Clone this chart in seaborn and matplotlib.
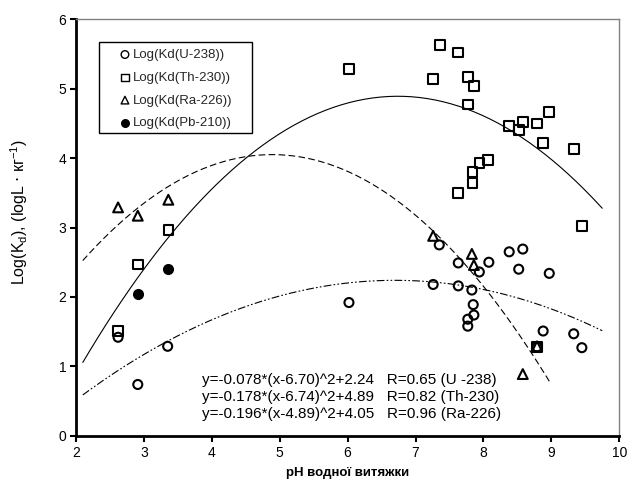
import numpy as np
import pandas as pd
import matplotlib
matplotlib.use("Agg")
import matplotlib.pyplot as plt
from matplotlib.patches import Rectangle
import seaborn as sns

sns.set_theme(style="white")
plt.rcParams['font.family'] = ['Liberation Sans', 'DejaVu Sans']

# --- data ---
u_ph = [2.62, 2.91, 3.35, 6.02, 7.26, 7.35, 7.63, 7.63, 7.83, 7.85, 7.86, 7.77, 7.77,
        7.94, 8.08, 8.38, 8.58, 8.52, 8.97, 8.88, 8.79, 9.33, 9.45]
u_kd = [1.42, 0.74, 1.29, 1.92, 2.18, 2.75, 2.49, 2.16, 2.10, 1.89, 1.74, 1.68, 1.58,
        2.36, 2.50, 2.65, 2.69, 2.40, 2.34, 1.51, 1.28, 1.47, 1.27]

th_ph = [2.62, 2.91, 3.36, 6.02, 7.36, 7.63, 7.26, 7.77, 7.86, 7.77, 8.38, 8.52, 8.58,
         8.79, 8.97, 8.88, 9.33, 9.45, 8.07, 7.94, 7.84, 7.84, 7.63, 8.79]
th_kd = [1.51, 2.47, 2.96, 5.28, 5.63, 5.52, 5.14, 5.17, 5.04, 4.77, 4.46, 4.40, 4.52,
         4.50, 4.66, 4.22, 4.13, 3.02, 3.97, 3.93, 3.80, 3.64, 3.50, 1.28]

ra_ph = [2.62, 2.91, 3.36, 7.26, 7.83, 7.86, 8.79, 8.58]
ra_kd = [3.29, 3.17, 3.40, 2.88, 2.62, 2.46, 1.29, 0.89]

pb_ph = [2.91, 3.36]
pb_kd = [2.04, 2.41]

# fitted curves: y = a*(x - h)^2 + k  (coefficients printed on the chart)
u_fit = [-0.078, 6.70, 2.24]
th_fit = [-0.178, 6.74, 4.89]
ra_fit = [-0.196, 4.89, 4.05]
u_range = [2.1, 9.75]
th_range = [2.1, 9.75]
ra_range = [2.1, 8.97]

eq_lines = [
    "y=-0.078*(x-6.70)^2+2.24   R=0.65 (U -238)",
    "y=-0.178*(x-6.74)^2+4.89   R=0.82 (Th-230)",
    "y=-0.196*(x-4.89)^2+4.05   R=0.96 (Ra-226)",
]
eq_y = [0.805, 0.560, 0.315]

x_ticks = [2, 3, 4, 5, 6, 7, 8, 9, 10]
y_ticks = [0, 1, 2, 3, 4, 5, 6]

fig = plt.figure(figsize=(6.28, 4.79), dpi=100)
ax = fig.add_axes([0.121, 0.090, 0.865, 0.870])

def fit_df(coef, rng):
    x = np.linspace(rng[0], rng[1], 200)
    return pd.DataFrame({"x": x, "y": coef[0] * (x - coef[1]) ** 2 + coef[2]})

sns.lineplot(data=fit_df(th_fit, th_range), x="x", y="y", ax=ax, color="black", lw=0.8)
sns.lineplot(data=fit_df(ra_fit, ra_range), x="x", y="y", ax=ax, color="black", lw=0.8)
ax.lines[-1].set_linestyle((0, (6, 3)))
sns.lineplot(data=fit_df(u_fit, u_range), x="x", y="y", ax=ax, color="black", lw=0.8)
ax.lines[-1].set_linestyle((0, (7, 2, 1.5, 2, 1.5, 2)))

mk = dict(edgecolor="black", linewidth=1.5, ax=ax, zorder=5)
sns.scatterplot(x=u_ph, y=u_kd, marker="o", s=42, facecolor="none", label="Log(Kd(U-238))", **mk)
sns.scatterplot(x=th_ph, y=th_kd, marker="s", s=48, facecolor="none", label="Log(Kd(Th-230))", **mk)
sns.scatterplot(x=ra_ph, y=ra_kd, marker="^", s=50, facecolor="none", label="Log(Kd(Ra-226))", **mk)
sns.scatterplot(x=pb_ph, y=pb_kd, marker="o", s=42, color="black", label="Log(Kd(Pb-210))", **mk)

ax.set_xlim(2, 10)
ax.set_ylim(0, 6)
ax.set_xticks(x_ticks)
ax.set_yticks(y_ticks)
ax.tick_params(axis="both", direction="out", length=4, width=1.5, color="black",
               labelsize=10, labelcolor="black", pad=3, bottom=True, left=True)
for s in ["left", "bottom"]:
    ax.spines[s].set_color("black")
    ax.spines[s].set_linewidth(2)
for s in ["top", "right"]:
    ax.spines[s].set_color("#808080")
    ax.spines[s].set_linewidth(1)

ax.set_xlabel("pH водної витяжки", fontsize=9.5, fontweight="bold", labelpad=5, color="black")
ax.set_ylabel(r"Log(K$_\mathregular{d}$), (logL $\cdot$ кг$^\mathregular{-1}$)", fontsize=11.5,
              color="black")
ax.yaxis.set_label_coords(-0.085, 0.537)

for t, yy in zip(eq_lines, eq_y):
    ax.text(3.86, yy, t, fontsize=11, color="black", va="center", ha="left")

# legend box
ax.add_patch(Rectangle((0.0424, 0.727), 0.2816, 0.218, transform=ax.transAxes,
                       facecolor="white", edgecolor="black", linewidth=1, zorder=6))
leg = ax.legend(loc="upper left", bbox_to_anchor=(0.078, 0.929), fontsize=9.5,
                frameon=False, handletextpad=0.1, handlelength=1.0, borderpad=0,
                labelspacing=0.8, borderaxespad=0)
leg.set_zorder(7)
for h in leg.legend_handles:
    h.set_linewidth(1)
    h.set_sizes([30])

fig.savefig("out.png", dpi=100)
